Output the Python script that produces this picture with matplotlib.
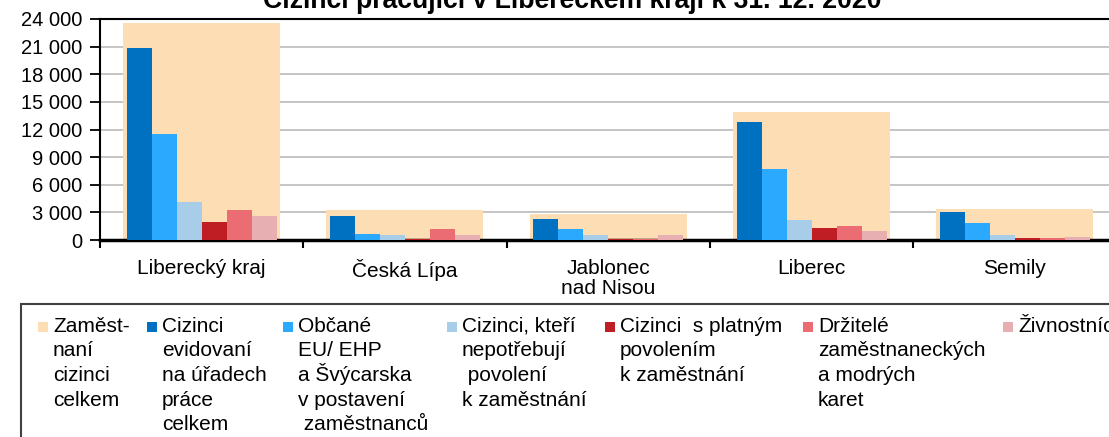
import matplotlib
matplotlib.use("Agg")
import matplotlib.pyplot as plt
from matplotlib.patches import Rectangle
from matplotlib.ticker import FuncFormatter, FixedLocator
import numpy as np

plt.rcParams['font.family'] = ['Liberation Sans', 'DejaVu Sans']

title = "Cizinci pracující v Libereckém kraji k 31. 12. 2020"
categories = ["Liberecký kraj", "Česká Lípa", "Jablonec\nnad Nisou", "Liberec", "Semily"]

# background (total) series
total_label = "Zaměst-\nnaní\ncizinci\ncelkem"
total = [23600, 3210, 2850, 13900, 3390]

series_labels = [
    "Cizinci\nevidovaní\nna úřadech\npráce\ncelkem",
    "Občané\nEU/ EHP\na Švýcarska\nv postavení\n zaměstnanců",
    "Cizinci, kteří\nnepotřebují\n povolení\nk zaměstnání",
    "Cizinci  s platným\npovolením\nk zaměstnání",
    "Držitelé\nzaměstnaneckých\na modrých\nkaret",
    "Živnostníci",
]
evidovani = [20900, 2660, 2230, 12800, 3060]
obcane_eu = [11490, 690, 1200, 7660, 1860]
nepotrebuji = [4090, 550, 550, 2190, 550]
s_povolenim = [1970, 150, 150, 1280, 250]
karty = [3280, 1170, 150, 1530, 250]
zivnostnici = [2660, 550, 580, 1020, 290]
series = [evidovani, obcane_eu, nepotrebuji, s_povolenim, karty, zivnostnici]

total_color = "#FCDDB4"
colors = ["#0070C0", "#2AA9FF", "#A8CDE8", "#BE1E24", "#EB6C73", "#E8AFB3"]

W, H = 1109, 437
fig = plt.figure(figsize=(W / 100, H / 100), dpi=100)
ax = fig.add_axes([100 / W, (H - 240) / H, 1016.5 / W, (240 - 19) / H])

x = np.arange(len(categories))
ax.bar(x, total, width=0.772, color=total_color, zorder=2)
bw = 0.123
for i, (vals, col) in enumerate(zip(series, colors)):
    ax.bar(x + (i - 2.5) * bw, vals, width=bw, color=col, zorder=3)

ax.set_xlim(-0.5, len(categories) - 0.5)
ax.set_ylim(0, 24000)
ax.set_yticks(np.arange(0, 24001, 3000))
ax.yaxis.set_major_formatter(FuncFormatter(lambda v, p: f"{int(v):,}".replace(",", " ")))
ax.yaxis.grid(True, color="#C0C0C0", linewidth=1.3, zorder=0)
ax.set_axisbelow(True)

ax.set_xticks(x)
ax.set_xticklabels(categories, fontsize=15, linespacing=1.05)
ax.xaxis.set_minor_locator(FixedLocator(np.arange(-0.5, len(categories), 1.0)))
ax.tick_params(axis='x', which='major', length=0, pad=14)
ax.tick_params(axis='x', which='minor', length=6, width=1.5, color='black', direction='out')
ax.tick_params(axis='y', labelsize=14.5, length=7, width=1.3, color='black', pad=6, direction='out')

for s in ['left', 'top', 'right']:
    ax.spines[s].set_linewidth(1.5)
    ax.spines[s].set_color('black')
ax.spines['bottom'].set_linewidth(2.5)
ax.spines['bottom'].set_color('black')

fig.text(572.5 / W, (H - 8) / H, title, ha='center', va='baseline',
         fontsize=19.2, fontweight='bold')

# legend frame (clipped at the right and bottom like the reference)
fig.patches.append(Rectangle((21 / W, -0.2), 1.2, (H - 304) / H + 0.2,
                             transform=fig.transFigure, fill=False,
                             edgecolor="#404040", linewidth=1.5))

text_x = [53, 162, 298, 462, 620, 818, 1018]
labels_all = [total_label] + series_labels
colors_all = [total_color] + colors
baseline0 = 332
line_step = 24.5
for tx, lab, col in zip(text_x, labels_all, colors_all):
    fig.patches.append(Rectangle(((tx - 15) / W, (H - 332) / H), 10 / W, 10 / H,
                                 transform=fig.transFigure, facecolor=col,
                                 edgecolor='none'))
    for j, line in enumerate(lab.split("\n")):
        fig.text(tx / W, (H - (baseline0 + j * line_step)) / H, line,
                 ha='left', va='baseline', fontsize=15)

fig.savefig("out.png", dpi=100)
